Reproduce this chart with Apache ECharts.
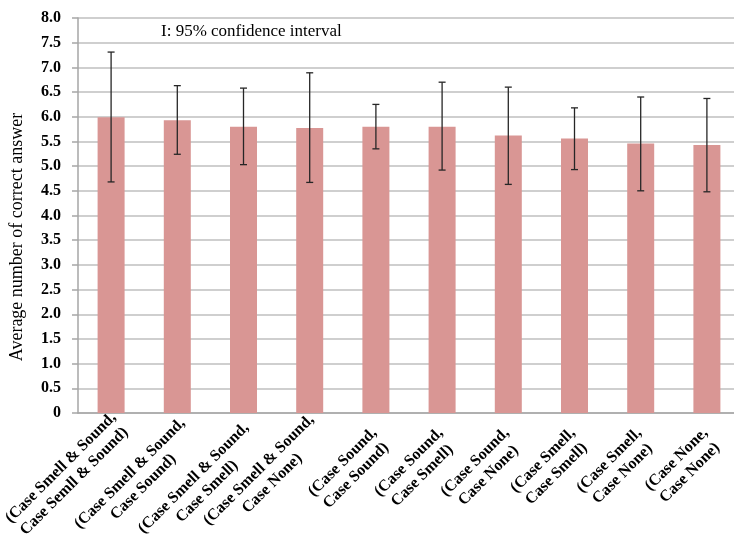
<!DOCTYPE html>
<html>
<head>
<meta charset="utf-8">
<script src="https://cdn.jsdelivr.net/npm/echarts@6/dist/echarts.min.js"></script>
<style>
  html, body { margin: 0; padding: 0; background: #fff; }
  #chart { width: 734px; height: 547px; }
</style>
</head>
<body>
<div id="chart"></div>
<script>
// Pair conditions (two label lines each)
const categories = [
  ['(Case Smell & Sound,', 'Case Semll & Sound)'],
  ['(Case Smell & Sound,', 'Case Sound)'],
  ['(Case Smell & Sound,', 'Case Smell)'],
  ['(Case Smell & Sound,', 'Case None)'],
  ['(Case Sound,', 'Case Sound)'],
  ['(Case Sound,', 'Case Smell)'],
  ['(Case Sound,', 'Case None)'],
  ['(Case Smell,', 'Case Smell)'],
  ['(Case Smell,', 'Case None)'],
  ['(Case None,', 'Case None)']
];

// Mean number of correct answers
const meanValues = [5.99, 5.93, 5.80, 5.77, 5.80, 5.80, 5.62, 5.56, 5.46, 5.43];

// 95% confidence interval bounds
const ciUpper = [7.31, 6.63, 6.58, 6.89, 6.25, 6.70, 6.60, 6.18, 6.40, 6.37];
const ciLower = [4.68, 5.24, 5.03, 4.67, 5.35, 4.92, 4.63, 4.93, 4.50, 4.48];

// Value axis ticks
const yTicks = ['0', '0.5', '1.0', '1.5', '2.0', '2.5', '3.0', '3.5', '4.0',
                '4.5', '5.0', '5.5', '6.0', '6.5', '7.0', '7.5', '8.0'];

// Per-label padding [top, right] in the rotated text frame (layout only)
const labelPadding = [
  [3, -12], [15, -10], [18, -5], [5, -10], [19, 2],
  [19, 2], [19, 2], [19, 2], [19, 2], [19, 2]
];

const SERIF = '"Liberation Serif", "Times New Roman", serif';
const LABEL_FONT_SIZE = 16;

// Each two-line label is centred line by line inside a box as wide as its longest line
const measureCtx = document.createElement('canvas').getContext('2d');
measureCtx.font = 'bold ' + LABEL_FONT_SIZE + 'px "Liberation Serif"';
const labelRich = {};
categories.forEach((lines, i) => {
  const w = Math.max(...lines.map(l => measureCtx.measureText(l).width));
  labelRich['l' + i] = { width: Math.ceil(w), align: 'center', lineHeight: 19 };
});

const chart = echarts.init(document.getElementById('chart'), null, { renderer: 'canvas' });

chart.setOption({
  animation: false,
  backgroundColor: '#fff',
  title: {
    text: 'I: 95% confidence interval',
    left: 161,
    top: 23,
    padding: 0,
    textStyle: { fontFamily: SERIF, fontSize: 17, fontWeight: 'normal', color: '#000' }
  },
  grid: {
    left: 78,
    top: 18,
    width: 662,
    height: 395,
    outerBoundsMode: 'none'
  },
  xAxis: {
    type: 'category',
    data: categories.map((c, i) => ({
      value: c.join('\n'),
      textStyle: { padding: [labelPadding[i][0], labelPadding[i][1], 0, 0] }
    })),
    axisLine: { show: true, lineStyle: { color: '#a6a6a6', width: 1.5 } },
    axisTick: { show: false },
    axisLabel: {
      interval: 0,
      rotate: 45,
      align: 'right',
      verticalAlign: 'top',
      margin: 16,
      lineHeight: 19,
      fontFamily: SERIF,
      fontSize: LABEL_FONT_SIZE,
      fontWeight: 'bold',
      color: '#000',
      formatter: (value, index) =>
        categories[index].map(l => '{l' + index + '|' + l + '}').join('\n'),
      rich: labelRich
    }
  },
  yAxis: {
    type: 'value',
    min: 0,
    max: 8,
    interval: 0.5,
    name: 'Average number of correct answer',
    nameLocation: 'middle',
    nameGap: 52,
    nameTextStyle: { fontFamily: SERIF, fontSize: 18, color: '#000', padding: [0, 43, 0, 0] },
    axisLine: { show: true, lineStyle: { color: '#a6a6a6', width: 1.5 } },
    axisTick: { show: true, length: 6, lineStyle: { color: '#a6a6a6', width: 1.5 } },
    axisLabel: {
      margin: 17,
      fontFamily: SERIF,
      fontSize: 16,
      fontWeight: 'bold',
      color: '#000',
      formatter: (v) => yTicks[Math.round(v / 0.5)]
    },
    splitLine: { show: true, lineStyle: { color: '#bfbfbf', width: 1.5 } }
  },
  series: [
    {
      type: 'bar',
      data: meanValues,
      barWidth: 27,
      itemStyle: { color: '#d99694' },
      z: 2
    },
    {
      type: 'custom',
      data: categories.map((c, i) => [i, ciLower[i], ciUpper[i]]),
      encode: { x: 0, y: [1, 2] },
      z: 5,
      renderItem: (params, api) => {
        const idx = api.value(0);
        const lo = api.coord([idx, api.value(1)]);
        const hi = api.coord([idx, api.value(2)]);
        const cap = 3.5;
        const style = { stroke: '#262626', lineWidth: 1.3 };
        return {
          type: 'group',
          children: [
            { type: 'line', shape: { x1: hi[0], y1: hi[1], x2: lo[0], y2: lo[1] }, style },
            { type: 'line', shape: { x1: hi[0] - cap, y1: hi[1], x2: hi[0] + cap, y2: hi[1] }, style },
            { type: 'line', shape: { x1: lo[0] - cap, y1: lo[1], x2: lo[0] + cap, y2: lo[1] }, style }
          ]
        };
      }
    }
  ]
});
</script>
</body>
</html>
